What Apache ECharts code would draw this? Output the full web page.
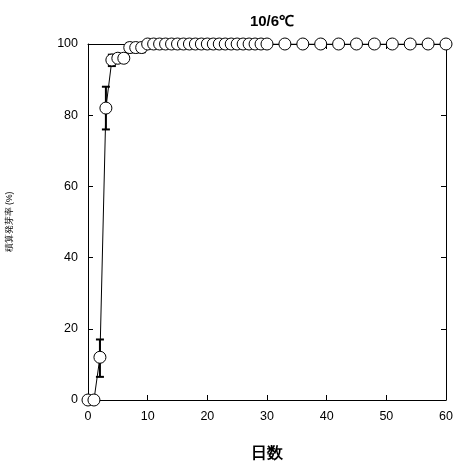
<!DOCTYPE html>
<html><head><meta charset="utf-8">
<script src="https://cdn.jsdelivr.net/npm/echarts@6/dist/echarts.min.js"></script>
<style>html,body{margin:0;padding:0;background:#fff}#c{width:457px;height:465px}</style>
</head><body><div id="c"></div>
<script>
var title = "10/6℃";
var xName = "日数";
var yName = "積算発芽率 (%)";
var days = [0,1,2,3,4,5,6,7,8,9,10,11,12,13,14,15,16,17,18,19,20,21,22,23,24,25,26,27,28,29,30,33,36,39,42,45,48,51,54,57,60];
var rates = [0,0,12,82,95.5,96,96,99,99,99,100,100,100,100,100,100,100,100,100,100,100,100,100,100,100,100,100,100,100,100,100,100,100,100,100,100,100,100,100,100,100];
var errDays = [2,3,4,7,8,9];
var errLow = [6.5,76,93.8,97.7,97.7,97.7];
var errHigh = [17,88,97,100.3,100.3,100.3];

var pts = days.map(function(d,i){return [d,rates[i]];});
var errData = errDays.map(function(d,i){return [d,errLow[i],errHigh[i]];});
var chart = echarts.init(document.getElementById('c'));
var font = "'Liberation Sans', Arial, sans-serif";
function axisCommon(){
  return {
    min:0,
    axisLine:{show:true,onZero:false,lineStyle:{color:'#000',width:1}},
    axisTick:{show:true,inside:true,length:5,lineStyle:{color:'#000'}},
    splitLine:{show:false}
  };
}
chart.setOption({
  animation:false,
  title:{text:title,left:267,top:9,textAlign:'center',textStyle:{fontFamily:font,fontSize:15,fontWeight:'bold',color:'#000'}},
  grid:{left:88,right:11,top:44,bottom:65,containLabel:false,outerBoundsMode:'none'},
  xAxis:[
    Object.assign(axisCommon(),{type:'value',max:60,interval:10,position:'bottom',
      name:xName,nameLocation:'middle',nameGap:46,
      nameTextStyle:{fontFamily:font,fontSize:16,fontWeight:'bold',color:'#000'},
      axisLabel:{fontFamily:font,fontSize:12.5,color:'#000',margin:10}}),
    Object.assign(axisCommon(),{type:'value',max:60,interval:10,position:'top',axisLabel:{show:false}})
  ],
  yAxis:[
    Object.assign(axisCommon(),{type:'value',max:100,interval:20,position:'left',
      name:yName,nameLocation:'middle',nameGap:74,nameRotate:90,
      nameTextStyle:{fontFamily:font,fontSize:8.5,color:'#000'},
      axisLabel:{fontFamily:font,fontSize:12.5,color:'#000',margin:10}}),
    Object.assign(axisCommon(),{type:'value',max:100,interval:20,position:'right',axisLabel:{show:false}})
  ],
  series:[
    {type:'custom',xAxisIndex:0,yAxisIndex:0,z:1,data:errData,
     renderItem:function(params,api){
       var x=api.value(0),lo=api.value(1),hi=api.value(2);
       var p1=api.coord([x,lo]),p2=api.coord([x,hi]);
       var w=4;
       var st={stroke:'#000',lineWidth:2};
       return {type:'group',children:[
         {type:'line',shape:{x1:p1[0],y1:p1[1],x2:p2[0],y2:p2[1]},style:st},
         {type:'line',shape:{x1:p1[0]-w,y1:p1[1],x2:p1[0]+w,y2:p1[1]},style:st},
         {type:'line',shape:{x1:p2[0]-w,y1:p2[1],x2:p2[0]+w,y2:p2[1]},style:st}
       ]};
     }},
    {type:'line',xAxisIndex:0,yAxisIndex:0,z:3,data:pts,symbol:'circle',symbolSize:12,
     lineStyle:{color:'#000',width:1},
     itemStyle:{color:'#fff',borderColor:'#000',borderWidth:1}}
  ]
});
</script></body></html>
